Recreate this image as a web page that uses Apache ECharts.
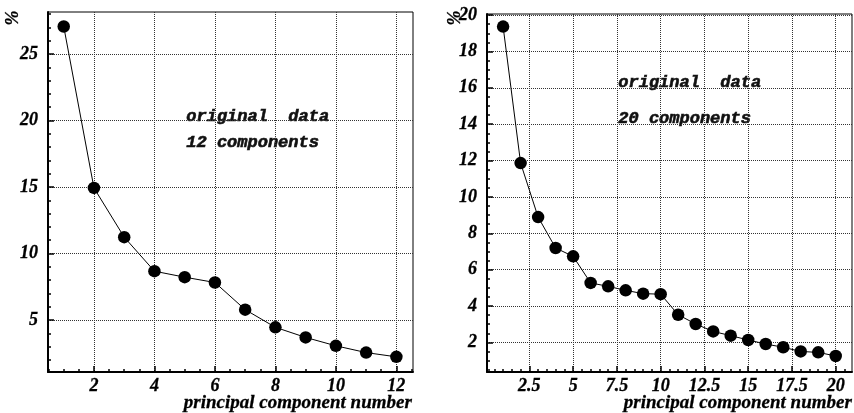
<!DOCTYPE html>
<html>
<head>
<meta charset="utf-8">
<script src="https://cdn.jsdelivr.net/npm/echarts@6/dist/echarts.min.js"></script>
<style>
html,body{margin:0;padding:0;background:#fff;}
#c{width:854px;height:413px;}
</style>
</head>
<body>
<div id="c"></div>
<script>
// ---- data ----
const componentsLeft = [1,2,3,4,5,6,7,8,9,10,11,12];
const percentLeft = [27.07,14.93,11.23,8.67,8.22,7.82,5.78,4.45,3.69,3.06,2.55,2.23];
const componentsRight = [1,2,3,4,5,6,7,8,9,10,11,12,13,14,15,16,17,18,19,20];
const percentRight = [19.37,11.86,8.89,7.19,6.73,5.27,5.08,4.86,4.68,4.65,3.52,3.01,2.60,2.37,2.13,1.91,1.73,1.50,1.45,1.25];

// ---- ticks ----
const leftXTicks = [2,4,6,8,10,12];
const leftYTicks = [5,10,15,20,25];
const rightXTicks = [2.5,5,7.5,10,12.5,15,17.5,20];
const rightYTicks = [2,4,6,8,10,12,14,16,18,20];
function steps(a,b,s){const r=[];for(let v=a;v<=b+1e-9;v+=s)r.push(+v.toFixed(3));return r;}
const leftXMinor = steps(0.5,12.5,0.5);
const leftYMinor = steps(1,28,1);
const rightXMinor = steps(0.5,20.5,0.5);
const rightYMinor = steps(0.5,20,0.5);

const annotLeft = ['original  data','12 components'];
const annotRight = ['original  data','20 components'];
const xTitle = 'principal component number';
const yTitle = '%';

const SERIF = 'Liberation Serif';
const MONO = 'Liberation Mono';

const labelFont = {fontFamily:SERIF,fontStyle:'italic',fontWeight:'bold',fontSize:18,color:'#000',
  textBorderColor:'#000',textBorderWidth:0.3};

function pairs(xs,ys){return xs.map((x,i)=>[x,ys[i]]);}

function majorX(grid,min,max,ticks){
  return {type:'value',gridIndex:grid,position:'bottom',min:min,max:max,
    axisLine:{show:true,onZero:false,lineStyle:{color:'#000',width:2}},
    axisTick:{show:true,inside:true,length:6,customValues:ticks,lineStyle:{color:'#000',width:1.5}},
    axisLabel:Object.assign({show:true,margin:5,customValues:ticks},labelFont),
    splitLine:{show:true,lineStyle:{color:'#333',type:'dotted',width:1}}};
}
function minorX(grid,min,max,ticks){
  return {type:'value',gridIndex:grid,position:'bottom',min:min,max:max,
    axisLine:{show:false},
    axisTick:{show:true,inside:true,length:3,customValues:ticks,lineStyle:{color:'#000',width:1.5}},
    axisLabel:{show:false},splitLine:{show:false}};
}
function majorY(grid,min,max,ticks){
  return {type:'value',gridIndex:grid,position:'left',min:min,max:max,
    axisLine:{show:true,onZero:false,lineStyle:{color:'#000',width:2}},
    axisTick:{show:true,inside:true,length:6,customValues:ticks,lineStyle:{color:'#000',width:1.5}},
    axisLabel:Object.assign({show:true,margin:10,customValues:ticks},labelFont),
    splitLine:{show:true,lineStyle:{color:'#333',type:'dotted',width:1}}};
}
function minorY(grid,min,max,ticks){
  return {type:'value',gridIndex:grid,position:'left',min:min,max:max,
    axisLine:{show:false},
    axisTick:{show:true,inside:true,length:3,customValues:ticks,lineStyle:{color:'#000',width:1.5}},
    axisLabel:{show:false},splitLine:{show:false}};
}

const chart = echarts.init(document.getElementById('c'),null,{renderer:'canvas'});
const annotFont = {fontFamily:MONO,fontStyle:'italic',fontWeight:'bold',fontSize:17,fill:'#111',stroke:'#111',lineWidth:0.6};
const titleFont = {fontFamily:SERIF,fontStyle:'italic',fontWeight:'bold',fontSize:19,fill:'#000',stroke:'#000',lineWidth:0.3};

chart.setOption({
  animation:false,
  backgroundColor:'#fff',
  grid:[
    {left:48,top:12,width:365,height:360,show:true,borderColor:'#000',borderWidth:1,containLabel:false},
    {left:487,top:14,width:365,height:358,show:true,borderColor:'#000',borderWidth:1,containLabel:false}
  ],
  xAxis:[
    majorX(0,0.48,12.55,leftXTicks),
    minorX(0,0.48,12.55,leftXMinor),
    majorX(1,0.08,20.93,rightXTicks),
    minorX(1,0.08,20.93,rightXMinor)
  ],
  yAxis:[
    majorY(0,1.09,28.16,leftYTicks),
    minorY(0,1.09,28.16,leftYMinor),
    majorY(1,0.37,20.06,rightYTicks),
    minorY(1,0.37,20.06,rightYMinor)
  ],
  series:[
    {type:'line',xAxisIndex:0,yAxisIndex:0,data:pairs(componentsLeft,percentLeft),
     symbol:'circle',symbolSize:12.5,itemStyle:{color:'#000'},lineStyle:{color:'#000',width:1},z:5},
    {type:'line',xAxisIndex:2,yAxisIndex:2,data:pairs(componentsRight,percentRight),
     symbol:'circle',symbolSize:12.5,itemStyle:{color:'#000'},lineStyle:{color:'#000',width:1},z:5}
  ],
  graphic:[
    {type:'text',left:186,top:108,style:Object.assign({text:annotLeft[0]},annotFont)},
    {type:'text',left:186,top:134,style:Object.assign({text:annotLeft[1]},annotFont)},
    {type:'text',left:618,top:74,style:Object.assign({text:annotRight[0]},annotFont)},
    {type:'text',left:618,top:110,style:Object.assign({text:annotRight[1]},annotFont)},
    {type:'text',right:854-412,top:393,style:Object.assign({text:xTitle},titleFont)},
    {type:'text',right:2,top:393,style:Object.assign({text:xTitle},titleFont)},
    {type:'text',x:13,y:18,rotation:Math.PI/2,style:Object.assign({text:yTitle,align:'center',verticalAlign:'middle'},titleFont,{fontSize:18})},
    {type:'text',x:455,y:18,rotation:Math.PI/2,style:Object.assign({text:yTitle,align:'center',verticalAlign:'middle'},titleFont,{fontSize:18})}
  ]
});
</script>
</body>
</html>
